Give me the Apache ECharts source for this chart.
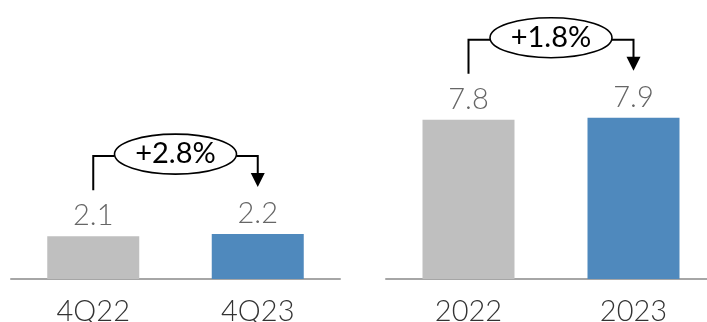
<!DOCTYPE html>
<html>
<head>
<meta charset="utf-8">
<script src="https://cdn.jsdelivr.net/npm/echarts@6/dist/echarts.min.js"></script>
<style>
  html, body { margin: 0; padding: 0; background: #ffffff; }
  #chart { width: 707px; height: 322px; }
</style>
</head>
<body>
<div id="chart"></div>
<script>
// Quarterly and full-year values
const quarterCategories = ['4Q22', '4Q23'];
const quarterValues = [2.1, 2.2];
const yearCategories = ['2022', '2023'];
const yearValues = [7.8, 7.9];
// Growth callouts shown above each pair
const changeLabels = ['+2.8%', '+1.8%'];

const GRAY = '#bfbfbf';
const BLUE = '#4f89bd';
const FONT = 'Lato';

const chart = echarts.init(document.getElementById('chart'), null, { renderer: 'canvas' });

function xAxisFor(gridIndex, cats) {
  return {
    type: 'category', gridIndex: gridIndex, data: cats,
    axisLine: { show: true, lineStyle: { color: '#a6a6a6', width: 2 } },
    axisTick: { show: false },
    axisLabel: { color: '#333333', fontSize: 29, fontFamily: FONT, fontWeight: 300, margin: 18 }
  };
}
function yAxisFor(gridIndex) {
  return { type: 'value', gridIndex: gridIndex, min: 0, max: 12, show: false, splitLine: { show: false } };
}
function barSeries(idx, values) {
  return {
    type: 'bar', xAxisIndex: idx, yAxisIndex: idx, barWidth: 92,
    data: values.map((v, i) => ({ value: v, itemStyle: { color: i === 0 ? GRAY : BLUE } })),
    label: {
      show: true, position: 'top', distance: 6,
      color: '#666666', fontSize: 29, fontFamily: FONT, fontWeight: 300,
      formatter: p => p.value.toFixed(1)
    },
    silent: true, animation: false
  };
}

chart.setOption({
  animation: false,
  grid: [
    { left: 11, width: 329, top: 34, bottom: 43, outerBoundsMode: 'none' },
    // the full-year axis runs on past the right edge
    { left: 386, width: 330, top: 34, bottom: 43, outerBoundsMode: 'none' }
  ],
  xAxis: [xAxisFor(0, quarterCategories), xAxisFor(1, yearCategories)],
  yAxis: [yAxisFor(0), yAxisFor(1)],
  series: [barSeries(0, quarterValues), barSeries(1, yearValues)]
});

// Callout connectors: line from the first bar, ellipse with growth rate, arrow into the second bar
function callout(gridIndex, cats, values, text) {
  const a = chart.convertToPixel({ gridIndex: gridIndex }, [cats[0], values[0]]);
  const b = chart.convertToPixel({ gridIndex: gridIndex }, [cats[1], values[1]]);
  const topY = Math.min(a[1], b[1]);
  const lineY = topY - 78;
  const cx = (a[0] + b[0]) / 2;
  const rx = 61, ry = 20;
  const startY = a[1] - 46;
  const tipY = b[1] - 47;
  const stroke = { stroke: '#000000', lineWidth: 2, fill: null };
  return [
    { type: 'polyline', shape: { points: [[a[0], startY], [a[0], lineY], [cx - rx, lineY]] }, style: stroke, silent: true },
    { type: 'polyline', shape: { points: [[cx + rx, lineY], [b[0], lineY], [b[0], tipY - 12]] }, style: stroke, silent: true },
    { type: 'polygon', shape: { points: [[b[0] - 7, tipY - 14], [b[0] + 7, tipY - 14], [b[0], tipY]] }, style: { fill: '#000000' }, silent: true },
    { type: 'ellipse', shape: { cx: cx, cy: lineY - 2, rx: rx, ry: ry }, style: { stroke: '#000000', lineWidth: 1.6, fill: '#ffffff' }, silent: true },
    { type: 'text', x: cx, y: lineY - 2, style: { text: text, fill: '#000000', fontSize: 29, fontFamily: FONT, align: 'center', verticalAlign: 'middle' }, silent: true }
  ];
}

chart.setOption({
  graphic: [].concat(
    callout(0, quarterCategories, quarterValues, changeLabels[0]),
    callout(1, yearCategories, yearValues, changeLabels[1])
  )
});
</script>
</body>
</html>
